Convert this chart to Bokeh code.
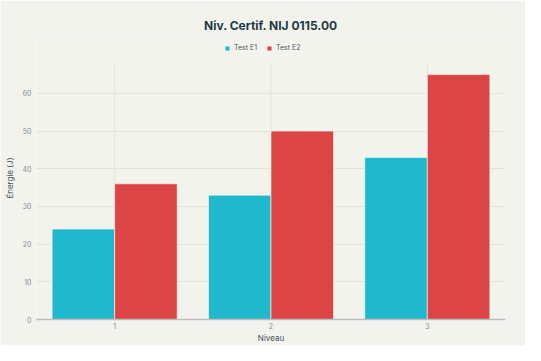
from bokeh.plotting import figure
from bokeh.models import ColumnDataSource, Legend, LegendItem, Range1d, FixedTicker
from bokeh.transform import dodge
from bokeh.embed import file_html
from bokeh.resources import INLINE

niveaux = [1, 2, 3]
test_e1 = [24, 33, 43]
test_e2 = [36, 50, 65]
series_names = ["Test E1", "Test E2"]
y_ticks = [0, 10, 20, 30, 40, 50, 60]
colors = ["#1FB8CD", "#DB4545"]
grid_top = 68.2     # upper edge of the plotting area (value units)
y_view_top = 75.1   # room above the plotting area for the legend

bg = "#F3F3EE"
font = "Inter"
grid_col = "#E3E3DD"

src = ColumnDataSource(dict(x=niveaux, e1=test_e1, e2=test_e2,
                            g0=[0] * len(niveaux), g1=[grid_top] * len(niveaux)))

p = figure(width=525, height=345, output_backend="svg", toolbar_location=None,
           x_range=Range1d(0.5, 3.5), y_range=Range1d(0, y_view_top),
           title="Niv. Certif. NIJ 0115.00",
           min_border_left=36, min_border_right=20, min_border_top=36, min_border_bottom=26)

p.background_fill_color = bg
p.border_fill_color = bg
p.outline_line_color = None

# vertical grid lines (limited to plotting area)
p.segment(x0="x", x1="x", y0="g0", y1="g1", source=src, line_color=grid_col, line_width=1)

r1 = p.vbar(x=dodge("x", -0.2, range=p.x_range), top="e1", width=0.4, source=src,
            fill_color=colors[0], line_color="white", line_width=0.6)
r2 = p.vbar(x=dodge("x", 0.2, range=p.x_range), top="e2", width=0.4, source=src,
            fill_color=colors[1], line_color="white", line_width=0.6)

p.title.text_font = font
p.title.text_font_size = "12px"
p.title.text_font_style = "bold"
p.title.text_color = "#1E3A46"
p.title.align = "center"
p.title.offset = 0
p.title.standoff = 8

legend = Legend(items=[LegendItem(label=series_names[0], renderers=[r1]),
                       LegendItem(label=series_names[1], renderers=[r2])],
                orientation="horizontal", location=(188, 267))
legend.background_fill_alpha = 0
legend.border_line_color = None
legend.label_text_font = font
legend.label_text_font_size = "7px"
legend.label_text_color = "#4A5A63"
legend.glyph_width = 6
legend.glyph_height = 6
legend.spacing = 9
legend.padding = 2
legend.margin = 0
legend.label_standoff = 4
legend.label_height = 8
p.add_layout(legend)

# axes
p.xaxis.ticker = FixedTicker(ticks=niveaux)
p.yaxis.ticker = FixedTicker(ticks=y_ticks)
p.xaxis.axis_label = "Niveau"
p.yaxis.axis_label = "Énergie (J)"
for ax in (p.xaxis[0], p.yaxis[0]):
    ax.major_tick_line_color = None
    ax.minor_tick_line_color = None
    ax.major_label_text_font = font
    ax.major_label_text_font_size = "7px"
    ax.major_label_text_color = "#868E92"
    ax.axis_label_text_font = font
    ax.axis_label_text_font_size = "8px"
    ax.axis_label_text_font_style = "normal"
    ax.axis_label_text_color = "#3E4F58"
    ax.major_tick_out = 0
    ax.major_label_standoff = 5
    ax.axis_label_standoff = 5
p.yaxis.axis_line_color = None
p.xaxis.axis_line_color = "#BDBDBA"
p.xaxis.axis_line_width = 1.5
p.xaxis.major_label_standoff = 3
p.xaxis.axis_label_standoff = 1

p.xgrid.grid_line_color = None
p.ygrid.grid_line_color = grid_col
p.ygrid.ticker = FixedTicker(ticks=y_ticks)

open("out.html", "w").write(file_html(p, INLINE))
